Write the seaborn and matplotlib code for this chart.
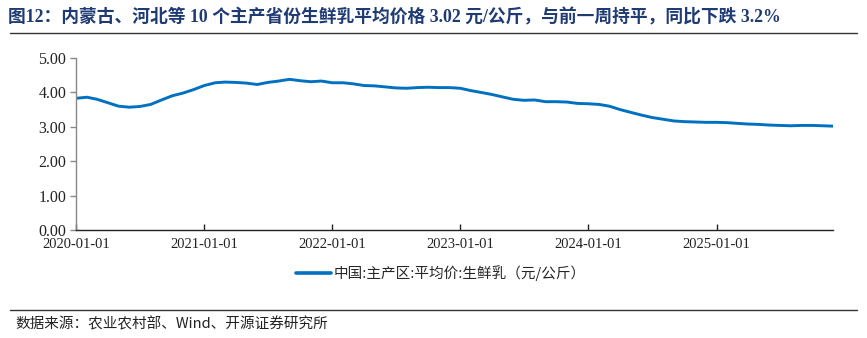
import matplotlib
matplotlib.use("Agg")
import matplotlib.pyplot as plt
import seaborn as sns
import pandas as pd
from matplotlib.lines import Line2D

# ---- data (monthly readings from the chart) ----
dates = pd.to_datetime([
    "2020-01-03","2020-02-01","2020-03-01","2020-04-01","2020-05-01","2020-06-01",
    "2020-07-01","2020-08-01","2020-09-01","2020-10-01","2020-11-01","2020-12-01",
    "2021-01-01","2021-02-01","2021-03-01","2021-04-01","2021-05-01","2021-06-01",
    "2021-07-01","2021-08-01","2021-09-01","2021-10-01","2021-11-01","2021-12-01",
    "2022-01-01","2022-02-01","2022-03-01","2022-04-01","2022-05-01","2022-06-01",
    "2022-07-01","2022-08-01","2022-09-01","2022-10-01","2022-11-01","2022-12-01",
    "2023-01-01","2023-02-01","2023-03-01","2023-04-01","2023-05-01","2023-06-01",
    "2023-07-01","2023-08-01","2023-09-01","2023-10-01","2023-11-01","2023-12-01",
    "2024-01-01","2024-02-01","2024-03-01","2024-04-01","2024-05-01","2024-06-01",
    "2024-07-01","2024-08-01","2024-09-01","2024-10-01","2024-11-01","2024-12-01",
    "2025-01-01","2025-02-01","2025-03-01","2025-04-01","2025-05-01","2025-06-01",
    "2025-07-01","2025-08-01","2025-09-01","2025-10-01","2025-11-28",
])
price = [
    3.83, 3.86, 3.80, 3.70, 3.60, 3.57, 3.59, 3.65, 3.78, 3.90, 3.98, 4.08,
    4.20, 4.28, 4.30, 4.29, 4.27, 4.23, 4.29, 4.33, 4.38, 4.34, 4.31, 4.33,
    4.28, 4.28, 4.25, 4.20, 4.19, 4.16, 4.13, 4.12, 4.14, 4.15, 4.14, 4.14,
    4.12, 4.05, 4.00, 3.94, 3.87, 3.80, 3.77, 3.78, 3.73, 3.73, 3.72, 3.68,
    3.67, 3.65, 3.60, 3.50, 3.42, 3.34, 3.27, 3.22, 3.17, 3.15, 3.14, 3.13,
    3.13, 3.12, 3.10, 3.08, 3.07, 3.05, 3.04, 3.03, 3.04, 3.04, 3.02,
]
series_name = "中国:主产区:平均价:生鲜乳（元/公斤）"
yticks = [0, 1, 2, 3, 4, 5]
xtick_labels = ["2020-01-01", "2021-01-01", "2022-01-01", "2023-01-01", "2024-01-01", "2025-01-01"]
title = "图12：内蒙古、河北等 10 个主产省份生鲜乳平均价格 3.02 元/公斤，与前一周持平，同比下跌 3.2%"
source = "数据来源：农业农村部、Wind、开源证券研究所"

df = pd.DataFrame({"date": dates, "price": price, "series": series_name})

sns.set_theme(style="white")
plt.rcParams["font.family"] = ["Liberation Serif", "Noto Sans CJK SC", "DejaVu Sans"]

fig = plt.figure(figsize=(8.67, 3.38), dpi=100)
ax = fig.add_axes([76/867, 1-230/338, (833-76)/867, (230-58)/338])

sns.lineplot(data=df, x="date", y="price", hue="series", palette=["#0070C0"],
             linewidth=2.1, ax=ax, legend=False)

ax.set_ylim(0, 5)
ax.set_yticks(yticks)
ax.set_yticklabels([f"{v:.2f}" for v in yticks])
ax.set_xlim(pd.Timestamp("2020-01-01"), pd.Timestamp("2025-11-29"))
ax.set_xticks(pd.to_datetime(xtick_labels))
ax.set_xticklabels(xtick_labels)
ax.set_xlabel("")
ax.set_ylabel("")

for s in ["top", "right"]:
    ax.spines[s].set_visible(False)
ax.spines["left"].set_color("#888888")
ax.spines["left"].set_linewidth(1.0)
ax.spines["bottom"].set_color("#222222")
ax.spines["bottom"].set_linewidth(1.0)
ax.tick_params(axis="y", direction="out", length=4, width=1, color="#888888",
               labelsize=11.5, pad=3, left=True, labelcolor="#222222")
ax.tick_params(axis="x", direction="in", length=4, width=1, color="#222222",
               labelsize=10.5, pad=6, bottom=True, labelcolor="#222222")

# legend
h = [Line2D([0], [0], color="#0070C0", lw=2.6)]
fig.legend(h, [series_name], loc="center", bbox_to_anchor=(441/867, 1-273/338),
           frameon=False, handlelength=2.4, handletextpad=0.2,
           prop={"family": ["Noto Sans CJK SC", "DejaVu Sans"], "size": 10.5})

# title and rules
fig.text(8/867, 1-17/338, title, fontsize=12.8, fontweight="bold", color="#1F3B73",
         va="center", ha="left", family=["Liberation Serif", "Noto Sans CJK SC"])
fig.add_artist(Line2D([10/867, 857/867], [1-33/338, 1-33/338], color="#333333", lw=1.0))
fig.add_artist(Line2D([10/867, 857/867], [1-310/338, 1-310/338], color="#333333", lw=1.0))
fig.text(15/867, 1-324/338, source, fontsize=10.5, color="#222222", va="center", ha="left",
         family=["Noto Sans CJK SC", "Liberation Serif"])

fig.savefig("out.png", dpi=100)
